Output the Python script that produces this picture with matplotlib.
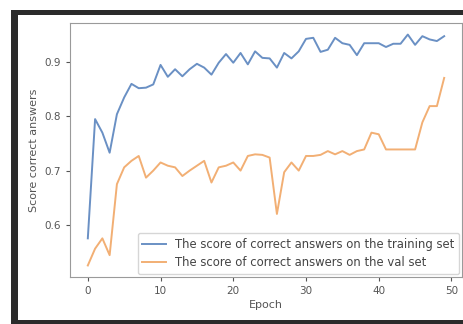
import matplotlib
matplotlib.use("Agg")
import matplotlib.pyplot as plt
from matplotlib.patches import Rectangle

epochs = list(range(50))
train_score = [0.575, 0.795, 0.770, 0.733, 0.804, 0.835, 0.860, 0.852, 0.853, 0.859,
               0.895, 0.873, 0.887, 0.874, 0.887, 0.897, 0.890, 0.877, 0.899, 0.915,
               0.899, 0.917, 0.896, 0.920, 0.908, 0.907, 0.890, 0.917, 0.907, 0.920,
               0.943, 0.945, 0.919, 0.923, 0.945, 0.935, 0.932, 0.913, 0.935, 0.935,
               0.935, 0.928, 0.934, 0.934, 0.951, 0.932, 0.948, 0.942, 0.939, 0.948]
val_score = [0.525, 0.556, 0.575, 0.544, 0.675, 0.706, 0.718, 0.727, 0.687, 0.700,
             0.715, 0.709, 0.706, 0.690, 0.700, 0.709, 0.718, 0.678, 0.706, 0.709,
             0.715, 0.700, 0.727, 0.730, 0.729, 0.724, 0.620, 0.697, 0.715, 0.700,
             0.727, 0.727, 0.729, 0.736, 0.730, 0.736, 0.729, 0.736, 0.739, 0.770,
             0.767, 0.739, 0.739, 0.739, 0.739, 0.739, 0.789, 0.819, 0.819, 0.871]
labels = ["The score of correct answers on the training set",
          "The score of correct answers on the val set"]

W, H = 464, 324
fig = plt.figure(figsize=(W / 100, H / 100), dpi=100)
fig.patch.set_facecolor("white")
# screenshot frame
fig.patches.append(Rectangle((11 / W, 0), 2, 1 - 10 / H, transform=fig.transFigure,
                             facecolor="#2b2b2b", edgecolor="none", zorder=-10))
fig.patches.append(Rectangle((18 / W, 4 / H), 2, 1 - 15 / H - 4 / H, transform=fig.transFigure,
                             facecolor="white", edgecolor="none", zorder=-9))

ax = fig.add_axes([70 / W, 1 - 277 / H, (462 - 70) / W, (277 - 23) / H])
ax.set_zorder(5)
ax.plot(epochs, train_score, color="#6a90c4", lw=1.4, label=labels[0])
ax.plot(epochs, val_score, color="#f2af74", lw=1.4, label=labels[1])
ax.set_yticks([0.6, 0.7, 0.8, 0.9])
ax.set_xticks([0, 10, 20, 30, 40, 50])
txtc = "#555555"
ax.tick_params(labelsize=7.5, colors=txtc, length=3)
for s in ax.spines.values():
    s.set_color("#9a9a9a")
ax.set_xlabel("Epoch", fontsize=8, color=txtc, labelpad=3)
ax.set_ylabel("Score correct answers", fontsize=8, color=txtc, labelpad=4)
leg = ax.legend(loc="lower right", fontsize=8.4, framealpha=0.8, borderaxespad=0.25)
for t in leg.get_texts():
    t.set_color("#444444")
fig.savefig("out.png", dpi=100)
